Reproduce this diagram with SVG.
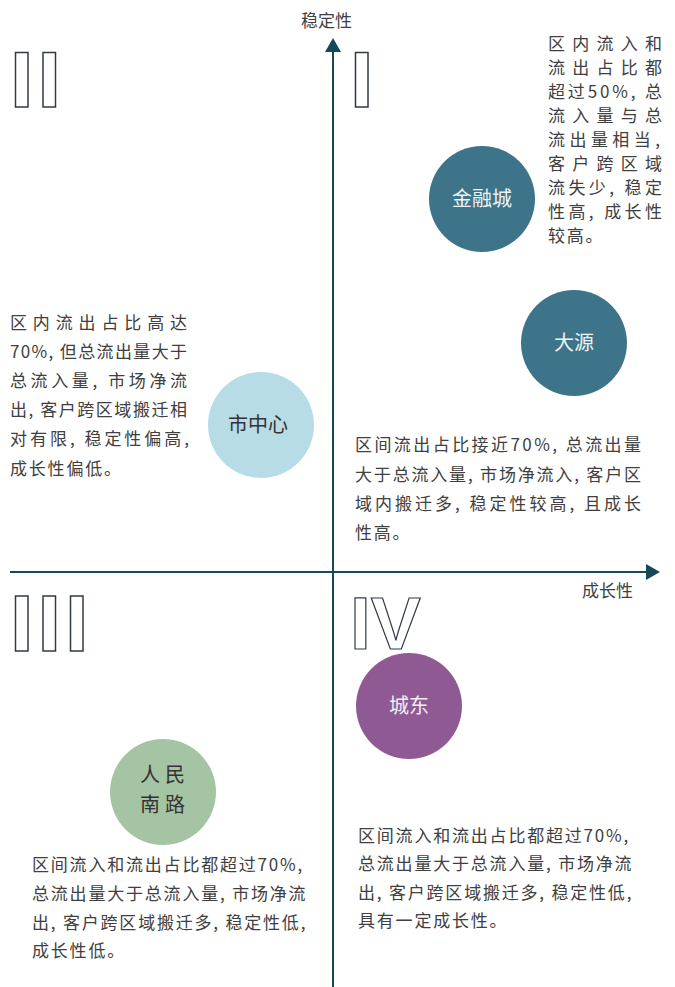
<svg xmlns="http://www.w3.org/2000/svg" width="675" height="987" viewBox="0 0 675 987">
<style>
.t{font-family:"Noto Sans CJK SC","Noto Sans",sans-serif;font-size:17px;fill:#404040;letter-spacing:1.8px}
.j{letter-spacing:0}
.lbl{font-family:"Noto Sans CJK SC","Noto Sans",sans-serif;font-size:17px;fill:#404040}
.cl{font-family:"Noto Sans CJK SC","Noto Sans",sans-serif;font-size:20px;text-anchor:middle}
.box{fill:#fff;stroke:#30384a;stroke-width:1.5}
.ax{stroke:#17485a;stroke-width:2;fill:none}
</style>
<rect width="675" height="987" fill="#fff"/>
<g id="connectors">
<line class="ax" x1="333" y1="50" x2="333" y2="987"/>
<polygon points="333,38 325,52 341,52" fill="#17485a"/>
<line class="ax" x1="10" y1="572" x2="648" y2="572"/>
<polygon points="660,572 646,564 646,580" fill="#17485a"/>
</g>
<g id="axis-labels">
<text class="lbl" x="301" y="26.5">稳定性</text>
<text class="lbl" x="582" y="596.5">成长性</text>
</g>
<g id="quadrant-II">
<rect class="box" x="15.5" y="52.5" width="12.5" height="54.5"/>
<rect class="box" x="43" y="52.5" width="12.5" height="54.5"/>
</g>
<g id="quadrant-I">
<rect class="box" x="355.5" y="52.5" width="12.5" height="54.5"/>
</g>
<g id="quadrant-III">
<rect class="box" x="15.5" y="596" width="12.5" height="55"/>
<rect class="box" x="43" y="596" width="12.5" height="55"/>
<rect class="box" x="70.5" y="596" width="12.5" height="55"/>
</g>
<g id="quadrant-IV">
<text x="350" y="649" font-family="Liberation Sans, Arial, sans-serif" font-weight="bold" font-size="75" fill="#fff" stroke="#30384a" stroke-width="1.2">IV</text>
</g>
<g id="node-jinrongcheng">
<circle cx="482" cy="199" r="53" fill="#3e7489"/>
<text class="cl" x="482" y="206" fill="#eef3f5">金融城</text>
</g>
<g id="node-dayuan">
<circle cx="574" cy="343" r="53" fill="#3e7489"/>
<text class="cl" x="574" y="350" fill="#eef3f5">大源</text>
</g>
<g id="node-shizhongxin">
<circle cx="261" cy="425" r="53" fill="#b8dce6"/>
<text class="cl" x="258" y="432" fill="#333">市中心</text>
</g>
<g id="node-chengdong">
<circle cx="409" cy="706" r="53" fill="#8f5a93"/>
<text class="cl" x="409" y="713" fill="#f3eef4">城东</text>
</g>
<g id="node-renminnanlu">
<circle cx="163" cy="792" r="53" fill="#a5c4a3"/>
<text class="cl" x="165" y="782" fill="#333" letter-spacing="5">人民</text>
<text class="cl" x="165" y="812" fill="#333" letter-spacing="5">南路</text>
</g>
<g id="text-I">
<text class="t j" x="548" y="49.5" textLength="114" lengthAdjust="spacing">区内流入和</text>
<text class="t j" x="548" y="73.5" textLength="114" lengthAdjust="spacing">流出占比都</text>
<text class="t j" x="548" y="97.5" textLength="114" lengthAdjust="spacing">超过50%, 总</text>
<text class="t j" x="548" y="121.5" textLength="114" lengthAdjust="spacing">流入量与总</text>
<text class="t j" x="548" y="145.5" textLength="112" lengthAdjust="spacing">流出量相当,</text>
<text class="t j" x="548" y="169.5" textLength="114" lengthAdjust="spacing">客户跨区域</text>
<text class="t j" x="548" y="193.5" textLength="114" lengthAdjust="spacing">流失少, 稳定</text>
<text class="t j" x="548" y="217.5" textLength="114" lengthAdjust="spacing">性高, 成长性</text>
<text class="t" x="548" y="241.5">较高。</text>
</g>
<g id="text-II">
<text class="t j" x="10" y="328.5" textLength="177" lengthAdjust="spacing">区内流出占比高达</text>
<text class="t j" x="10" y="357.5" textLength="177" lengthAdjust="spacing">70%, 但总流出量大于</text>
<text class="t j" x="10" y="387" textLength="177" lengthAdjust="spacing">总流入量, 市场净流</text>
<text class="t j" x="10" y="416" textLength="177" lengthAdjust="spacing">出, 客户跨区域搬迁相</text>
<text class="t j" x="10" y="445" textLength="179" lengthAdjust="spacing">对有限, 稳定性偏高,</text>
<text class="t" x="10" y="474.5">成长性偏低。</text>
</g>
<g id="text-dayuan">
<text class="t j" x="355" y="451" textLength="286" lengthAdjust="spacing">区间流出占比接近70%, 总流出量</text>
<text class="t j" x="355" y="481" textLength="286" lengthAdjust="spacing">大于总流入量, 市场净流入, 客户区</text>
<text class="t j" x="355" y="509.5" textLength="286" lengthAdjust="spacing">域内搬迁多, 稳定性较高, 且成长</text>
<text class="t" x="355" y="538.5">性高。</text>
</g>
<g id="text-III">
<text class="t" x="32" y="871">区间流入和流出占比都超过70%,</text>
<text class="t" x="32" y="899.5">总流出量大于总流入量, 市场净流</text>
<text class="t" x="32" y="928.5">出, 客户跨区域搬迁多, 稳定性低,</text>
<text class="t" x="32" y="956.5">成长性低。</text>
</g>
<g id="text-IV">
<text class="t" x="358" y="841.5">区间流入和流出占比都超过70%,</text>
<text class="t" x="358" y="869.5">总流出量大于总流入量, 市场净流</text>
<text class="t" x="358" y="898.5">出, 客户跨区域搬迁多, 稳定性低,</text>
<text class="t" x="358" y="926.5">具有一定成长性。</text>
</g>
</svg>
